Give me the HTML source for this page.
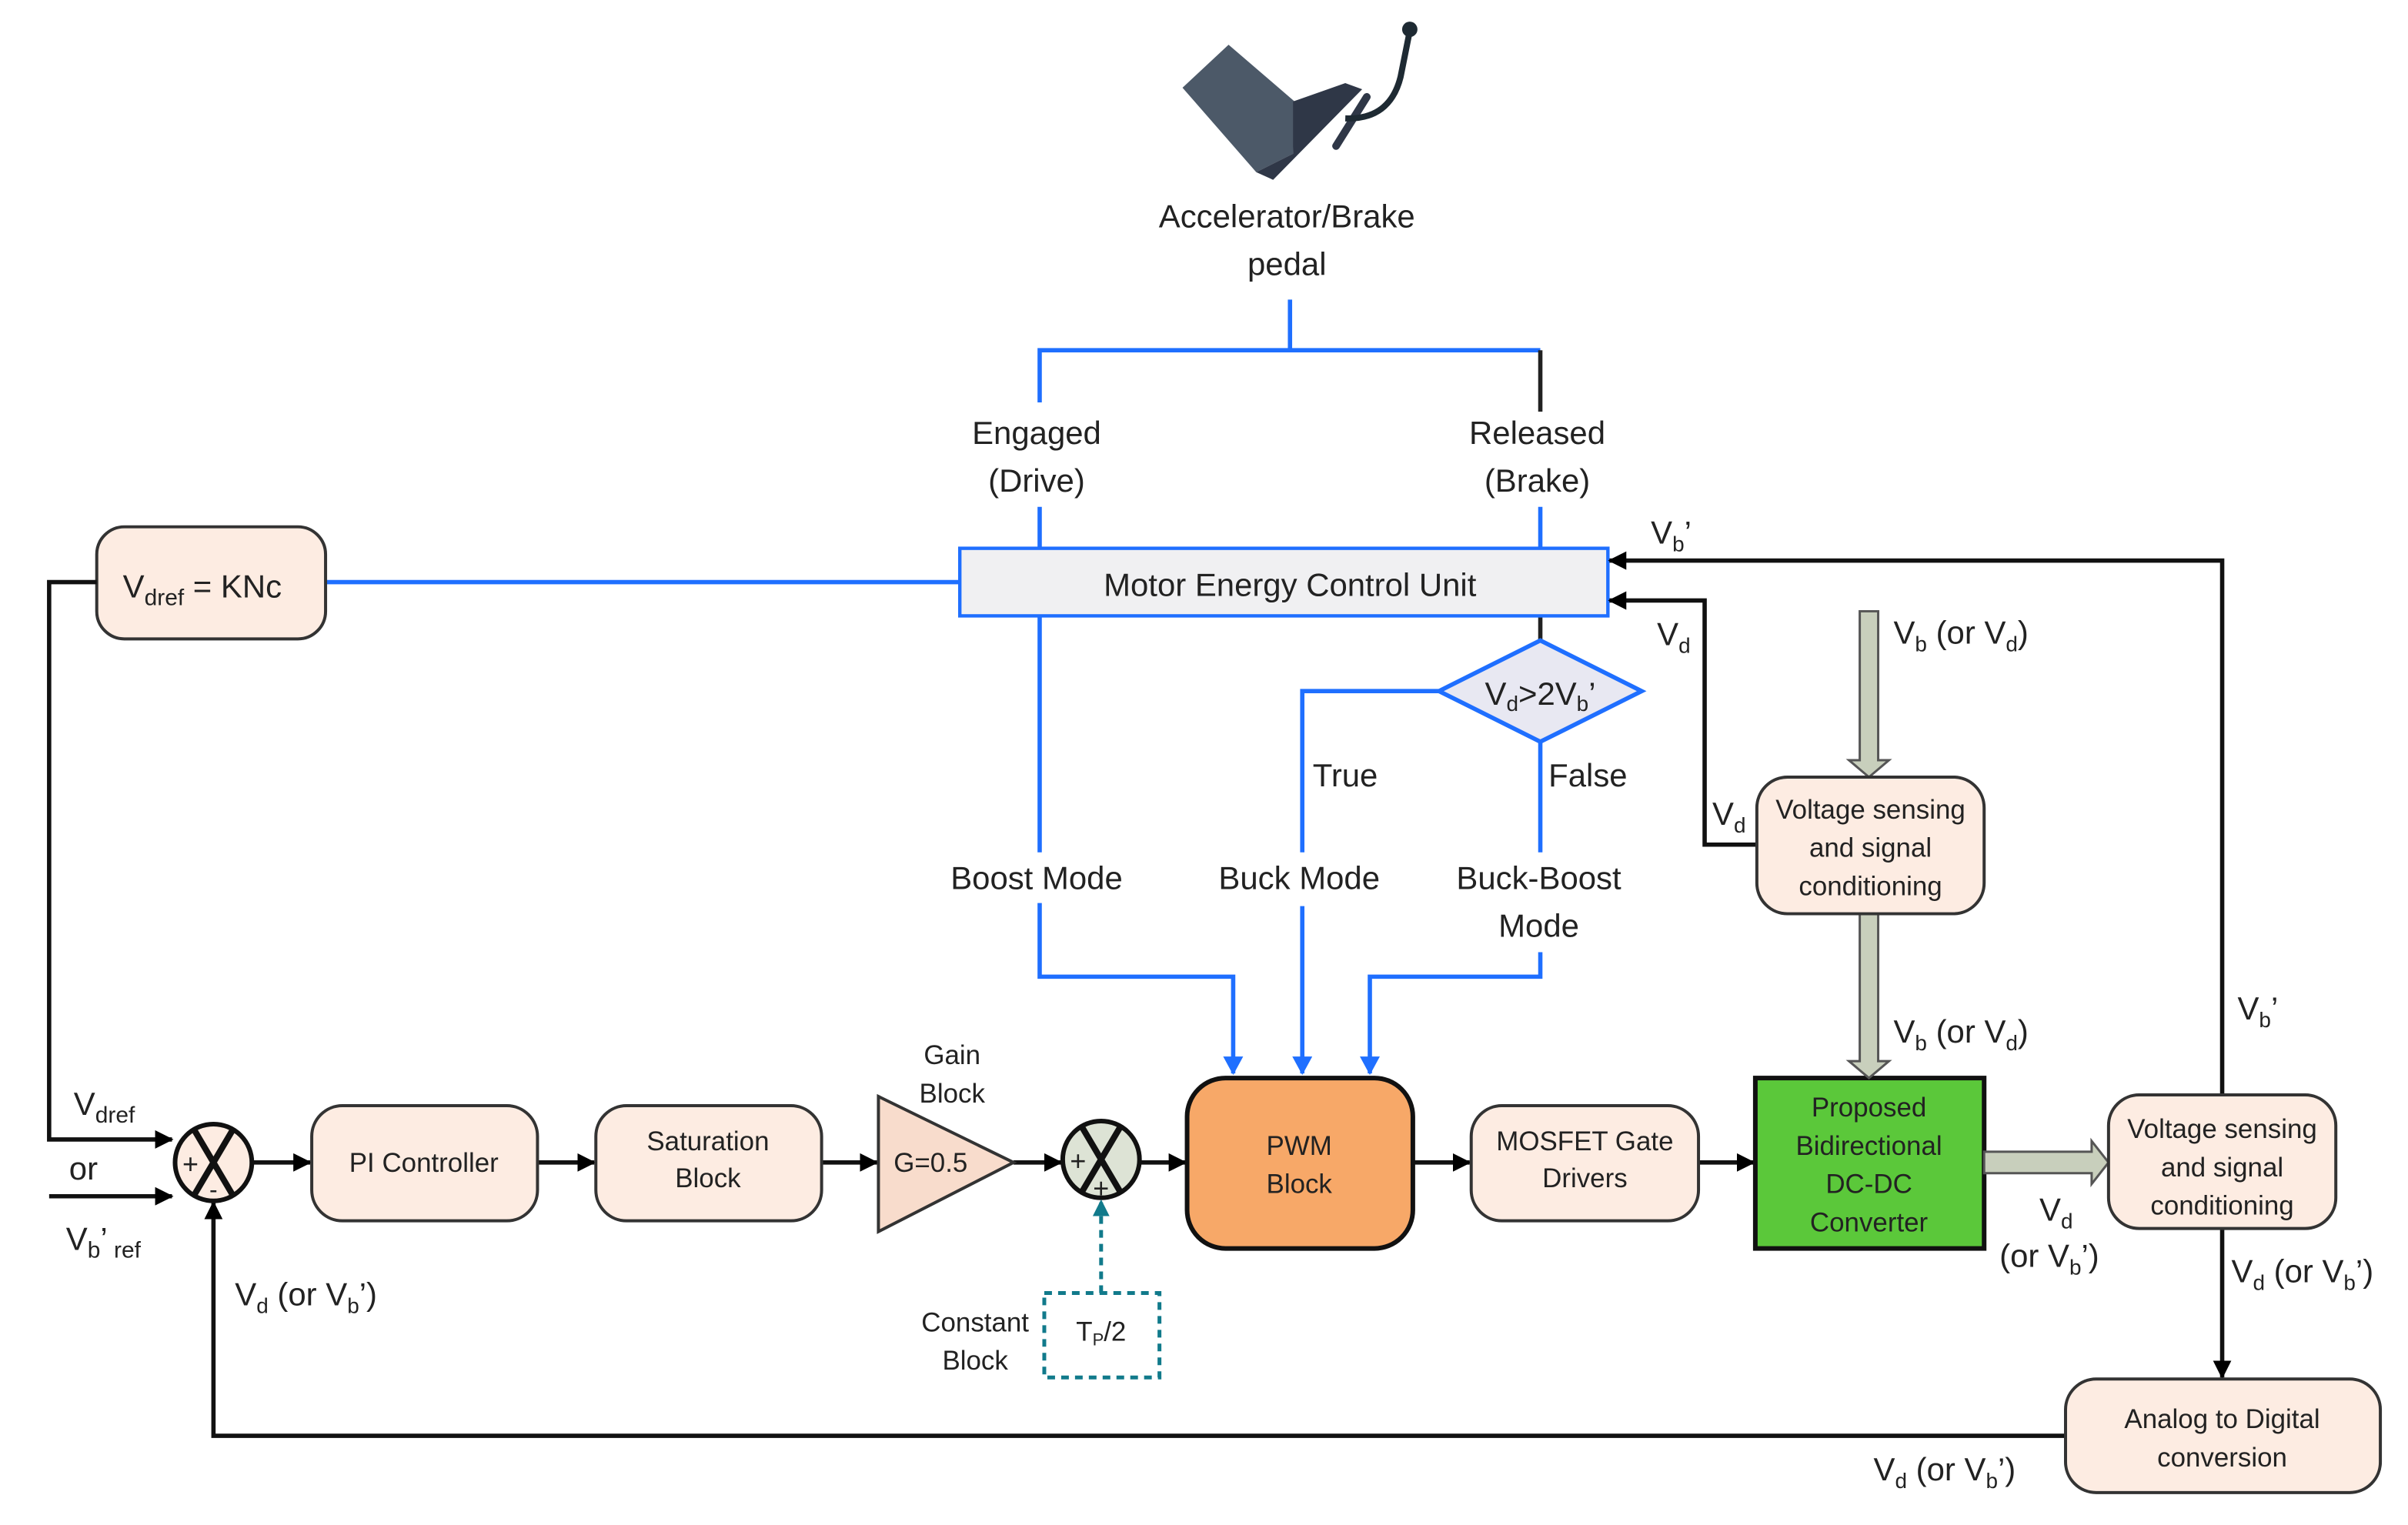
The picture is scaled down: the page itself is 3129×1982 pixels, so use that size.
<!DOCTYPE html>
<html><head><meta charset="utf-8"><style>
html,body{margin:0;padding:0;background:#fff}
svg{display:block}
text{font-family:"Liberation Sans",sans-serif;fill:#222}
.l{font-size:21px}
.b{font-size:17.5px}
</style></head><body>
<svg width="3129" height="1982" viewBox="0 0 1568 993" xmlns="http://www.w3.org/2000/svg">
<defs>
<marker id="ak" markerWidth="12" markerHeight="12" refX="11" refY="6" orient="auto" markerUnits="userSpaceOnUse"><path d="M0,0 L12,6 L0,12 Z" fill="#000"/></marker>
<marker id="ab" markerWidth="12" markerHeight="13" refX="11" refY="6.5" orient="auto" markerUnits="userSpaceOnUse"><path d="M0,0 L12,6.5 L0,13 Z" fill="#1f6fff"/></marker>
<marker id="at" markerWidth="11" markerHeight="11" refX="10" refY="5.5" orient="auto" markerUnits="userSpaceOnUse"><path d="M0,0 L11,5.5 L0,11 Z" fill="#117a8b"/></marker>
</defs>

<!-- pedal -->
<polygon points="800,29 770,57 818,112 842,100 843,66" fill="#4c5968"/>
<polygon points="842,66 876,54 887,58 829,117 818,112 842,100" fill="#2f3747"/>
<line x1="870" y1="95" x2="890" y2="63" stroke="#2f3747" stroke-width="5" stroke-linecap="round"/>
<path d="M876,77 Q905,78 912,50 L918,20" fill="none" stroke="#1e2a33" stroke-width="4"/>
<circle cx="918" cy="19" r="5" fill="#1e2a33"/>

<text class="l" x="838" y="148" text-anchor="middle">Accelerator/Brake</text>
<text class="l" x="838" y="179" text-anchor="middle">pedal</text>

<g stroke="#1f6fff" stroke-width="2.8" fill="none">
<line x1="840" y1="195" x2="840" y2="228"/>
<polyline points="1003,228 677,228 677,262"/>
<line x1="677" y1="330" x2="677" y2="357"/>
<line x1="1003" y1="330" x2="1003" y2="357"/>
<line x1="212" y1="379" x2="625" y2="379"/>
<line x1="677" y1="401" x2="677" y2="555"/>
<polyline points="677,588 677,636 803,636 803,699" marker-end="url(#ab)"/>
<polyline points="937,450 848,450 848,555"/>
<line x1="848" y1="590" x2="848" y2="699" marker-end="url(#ab)"/>
<line x1="1003" y1="483" x2="1003" y2="555"/>
<polyline points="1003,620 1003,636 892,636 892,699" marker-end="url(#ab)"/>
</g>
<line x1="1003" y1="228" x2="1003" y2="268" stroke="#222" stroke-width="2.8"/>
<line x1="1003" y1="401" x2="1003" y2="417" stroke="#222" stroke-width="2.8"/>

<text class="l" x="675" y="289" text-anchor="middle">Engaged</text>
<text class="l" x="675" y="320" text-anchor="middle">(Drive)</text>
<text class="l" x="1001" y="289" text-anchor="middle">Released</text>
<text class="l" x="1001" y="320" text-anchor="middle">(Brake)</text>

<rect x="625" y="357" width="422" height="44" fill="#f0f0f2" stroke="#1f6fff" stroke-width="2.2"/>
<text class="l" x="840" y="388" text-anchor="middle">Motor Energy Control Unit</text>

<rect x="63" y="343" width="149" height="73" rx="18" fill="#fdece2" stroke="#333" stroke-width="2"/>
<text class="l" x="80" y="389">V<tspan font-size="15" dy="5">dref</tspan><tspan dy="-5"> = KNc</tspan></text>

<polygon points="937,450 1003,417 1069,450 1003,483" fill="#e8e8f2" stroke="#1f6fff" stroke-width="2.8"/>
<text class="l" x="1003" y="459" text-anchor="middle">V<tspan font-size="14" dy="4">d</tspan><tspan dy="-4">&gt;2V</tspan><tspan font-size="14" dy="4">b</tspan><tspan dy="-4">’</tspan></text>

<text class="l" x="876" y="512" text-anchor="middle">True</text>
<text class="l" x="1034" y="512" text-anchor="middle">False</text>
<text class="l" x="675" y="579" text-anchor="middle">Boost Mode</text>
<text class="l" x="846" y="579" text-anchor="middle">Buck Mode</text>
<text class="l" x="1002" y="579" text-anchor="middle">Buck-Boost</text>
<text class="l" x="1002" y="610" text-anchor="middle">Mode</text>

<g stroke="#111" stroke-width="2.8" fill="none">
<polyline points="63,379 32,379 32,742 112,742" marker-end="url(#ak)"/>
<line x1="32" y1="779" x2="112" y2="779" marker-end="url(#ak)"/>
<polyline points="1345,935 139,935 139,783" marker-end="url(#ak)"/>
<line x1="164" y1="757" x2="202" y2="757" marker-end="url(#ak)"/>
<line x1="350" y1="757" x2="387" y2="757" marker-end="url(#ak)"/>
<line x1="535" y1="757" x2="571" y2="757" marker-end="url(#ak)"/>
<line x1="660" y1="757" x2="691" y2="757" marker-end="url(#ak)"/>
<line x1="742" y1="757" x2="772" y2="757" marker-end="url(#ak)"/>
<line x1="920" y1="757" x2="957" y2="757" marker-end="url(#ak)"/>
<line x1="1106" y1="757" x2="1142" y2="757" marker-end="url(#ak)"/>
<polyline points="1144,550 1110,550 1110,391 1048,391" marker-end="url(#ak)"/>
<polyline points="1447,713 1447,365 1048,365" marker-end="url(#ak)"/>
<line x1="1447" y1="800" x2="1447" y2="897" marker-end="url(#ak)"/>
</g>

<circle cx="139" cy="757" r="25" fill="#fdece2" stroke="#111" stroke-width="3"/>
<path d="M126,735 L152,779 M152,735 L126,779" stroke="#111" stroke-width="4"/>
<text x="124" y="764" font-size="18" text-anchor="middle">+</text>
<text x="139" y="780" font-size="16" text-anchor="middle">-</text>

<text class="l" x="48" y="726">V<tspan font-size="15" dy="5">dref</tspan></text>
<text class="l" x="45" y="768">or</text>
<text class="l" x="43" y="814">V<tspan font-size="15" dy="5">b</tspan><tspan dy="-5">’</tspan><tspan font-size="15" dy="5"> ref</tspan></text>
<text class="l" x="153" y="850">V<tspan font-size="14" dy="5">d</tspan><tspan dy="-5"> (or V</tspan><tspan font-size="14" dy="5">b</tspan><tspan dy="-5">’)</tspan></text>

<rect x="203" y="720" width="147" height="75" rx="20" fill="#fdece2" stroke="#333" stroke-width="2"/>
<text class="b" x="276" y="763" text-anchor="middle">PI Controller</text>
<rect x="388" y="720" width="147" height="75" rx="20" fill="#fdece2" stroke="#333" stroke-width="2"/>
<text class="b" x="461" y="749" text-anchor="middle">Saturation</text>
<text class="b" x="461" y="773" text-anchor="middle">Block</text>

<polygon points="572,714 572,802 660,757" fill="#f8dccc" stroke="#333" stroke-width="2"/>
<text class="b" x="606" y="763" text-anchor="middle">G=0.5</text>
<text class="b" x="620" y="693" text-anchor="middle">Gain</text>
<text class="b" x="620" y="718" text-anchor="middle">Block</text>

<circle cx="717" cy="755" r="25" fill="#dde3d5" stroke="#111" stroke-width="3"/>
<path d="M704,733 L730,777 M730,733 L704,777" stroke="#111" stroke-width="4"/>
<text x="702" y="762" font-size="18" text-anchor="middle">+</text>
<text x="717" y="780" font-size="18" text-anchor="middle">+</text>

<line x1="717" y1="842" x2="717" y2="782" stroke="#117a8b" stroke-width="2.5" stroke-dasharray="5,4" marker-end="url(#at)"/>
<rect x="680" y="842" width="75" height="55" fill="#fff" stroke="#117a8b" stroke-width="2.5" stroke-dasharray="5,4"/>
<text class="b" x="717" y="873" text-anchor="middle">T<tspan font-size="11" dy="3">P</tspan><tspan dy="-3">/2</tspan></text>
<text class="b" x="635" y="867" text-anchor="middle">Constant</text>
<text class="b" x="635" y="892" text-anchor="middle">Block</text>

<rect x="773" y="702" width="147" height="111" rx="25" fill="#f7a868" stroke="#111" stroke-width="3"/>
<text class="b" x="846" y="752" text-anchor="middle">PWM</text>
<text class="b" x="846" y="777" text-anchor="middle">Block</text>

<rect x="958" y="720" width="148" height="75" rx="20" fill="#fdece2" stroke="#333" stroke-width="2"/>
<text class="b" x="1032" y="749" text-anchor="middle">MOSFET Gate</text>
<text class="b" x="1032" y="773" text-anchor="middle">Drivers</text>

<rect x="1143" y="702" width="149" height="111" fill="#5bc83a" stroke="#111" stroke-width="3"/>
<text class="b" x="1217" y="727" text-anchor="middle">Proposed</text>
<text class="b" x="1217" y="752" text-anchor="middle">Bidirectional</text>
<text class="b" x="1217" y="777" text-anchor="middle">DC-DC</text>
<text class="b" x="1217" y="802" text-anchor="middle">Converter</text>

<g fill="#c8cfbc" stroke="#555" stroke-width="1.5">
<polygon points="1211,398 1223,398 1223,495 1230,495 1217,506 1204,495 1211,495"/>
<polygon points="1211,595 1223,595 1223,691 1230,691 1217,702 1204,691 1211,691"/>
<polygon points="1292,750 1362,750 1362,743 1373,757 1362,771 1362,764 1292,764"/>
</g>

<rect x="1144" y="506" width="148" height="89" rx="20" fill="#fdece2" stroke="#333" stroke-width="2"/>
<text class="b" x="1218" y="533" text-anchor="middle">Voltage sensing</text>
<text class="b" x="1218" y="558" text-anchor="middle">and signal</text>
<text class="b" x="1218" y="583" text-anchor="middle">conditioning</text>

<rect x="1373" y="713" width="148" height="87" rx="20" fill="#fdece2" stroke="#333" stroke-width="2"/>
<text class="b" x="1447" y="741" text-anchor="middle">Voltage sensing</text>
<text class="b" x="1447" y="766" text-anchor="middle">and signal</text>
<text class="b" x="1447" y="791" text-anchor="middle">conditioning</text>

<rect x="1345" y="898" width="205" height="74" rx="20" fill="#fdece2" stroke="#333" stroke-width="2"/>
<text class="b" x="1447" y="930" text-anchor="middle">Analog to Digital</text>
<text class="b" x="1447" y="955" text-anchor="middle">conversion</text>

<text class="l" x="1075" y="354">V<tspan font-size="14" dy="5">b</tspan><tspan dy="-5">’</tspan></text>
<text class="l" x="1079" y="420">V<tspan font-size="14" dy="5">d</tspan></text>
<text class="l" x="1115" y="537">V<tspan font-size="14" dy="5">d</tspan></text>
<text class="l" x="1233" y="419">V<tspan font-size="14" dy="5">b</tspan><tspan dy="-5"> (or V</tspan><tspan font-size="14" dy="5">d</tspan><tspan dy="-5">)</tspan></text>
<text class="l" x="1233" y="679">V<tspan font-size="14" dy="5">b</tspan><tspan dy="-5"> (or V</tspan><tspan font-size="14" dy="5">d</tspan><tspan dy="-5">)</tspan></text>
<text class="l" x="1457" y="664">V<tspan font-size="14" dy="5">b</tspan><tspan dy="-5">’</tspan></text>
<text class="l" x="1328" y="795">V<tspan font-size="14" dy="5">d</tspan></text>
<text class="l" x="1302" y="825">(or V<tspan font-size="14" dy="5">b</tspan><tspan dy="-5">’)</tspan></text>
<text class="l" x="1453" y="835">V<tspan font-size="14" dy="5">d</tspan><tspan dy="-5"> (or V</tspan><tspan font-size="14" dy="5">b</tspan><tspan dy="-5">’)</tspan></text>
<text class="l" x="1220" y="964">V<tspan font-size="14" dy="5">d</tspan><tspan dy="-5"> (or V</tspan><tspan font-size="14" dy="5">b</tspan><tspan dy="-5">’)</tspan></text>
</svg>
</body></html>
